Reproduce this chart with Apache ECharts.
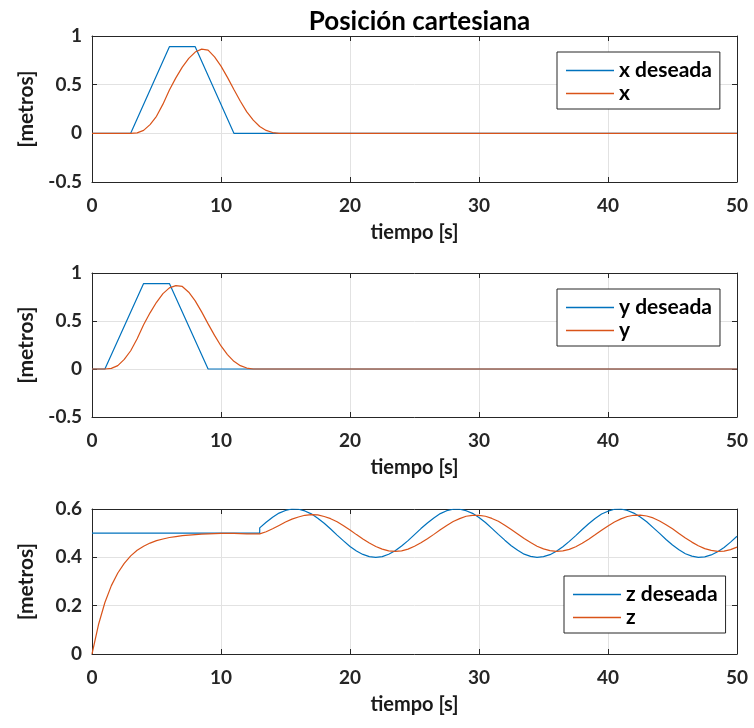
<!DOCTYPE html>
<html>
<head>
<meta charset="utf-8">
<script src="https://cdn.jsdelivr.net/npm/echarts@6/dist/echarts.min.js"></script>
<style>
  html, body { margin: 0; padding: 0; background: #ffffff; }
  #grafico { width: 754px; height: 728px; }
</style>
</head>
<body>
<div id="grafico"></div>
<script>
// Posición cartesiana: referencia (deseada) y respuesta medida en x, y, z.

// ---- Coordenada x ----
const tiempoXDeseada = [0, 3, 6, 8, 11, 50];
const xDeseada = [0, 0, 0.89, 0.89, 0, 0];
const tiempoXReal = [0, 3, 3.5, 4, 4.5, 5, 5.5, 6, 6.5, 7, 7.5, 8, 8.5, 9, 9.5, 10, 10.5, 11, 11.5, 12, 12.5, 13, 13.5, 14, 14.5, 50];
const xReal = [0, 0, 0.005, 0.03, 0.09, 0.175, 0.3, 0.445, 0.57, 0.68, 0.77, 0.835, 0.865, 0.855, 0.785, 0.69, 0.575, 0.45, 0.33, 0.22, 0.135, 0.07, 0.03, 0.008, 0, 0];

// ---- Coordenada y ----
const tiempoYDeseada = [0, 1, 4, 6, 9, 50];
const yDeseada = [0, 0, 0.89, 0.89, 0, 0];
const tiempoYReal = [0, 1, 1.5, 2, 2.5, 3, 3.5, 4, 4.5, 5, 5.5, 6, 6.5, 7, 7.5, 8, 8.5, 9, 9.5, 10, 10.5, 11, 11.5, 12, 12.5, 50];
const yReal = [0, 0, 0.006, 0.035, 0.1, 0.19, 0.315, 0.46, 0.585, 0.695, 0.785, 0.845, 0.868, 0.86, 0.8, 0.71, 0.595, 0.47, 0.35, 0.24, 0.15, 0.08, 0.035, 0.01, 0, 0];

// ---- Coordenada z (muestreo cada 0.5 s) ----
const pasoMuestreo = 0.5;
function muestras(desde, hasta, paso) {
  const t = [];
  for (let i = 0; desde + i * paso <= hasta + 1e-9; i++) t.push(+(desde + i * paso).toFixed(2));
  return t;
}
// Referencia: constante en 0.5 hasta t = 13 s, luego oscilación.
const tiempoZDeseada = [0, 13].concat(muestras(13, 50, pasoMuestreo));
const zDeseada = [0.5, 0.5,
  0.522, 0.545, 0.566, 0.583, 0.594, 0.600, 0.599, 0.592, 0.580, 0.562,
  0.541, 0.517, 0.492, 0.468, 0.445, 0.426, 0.412, 0.403, 0.400, 0.403,
  0.413, 0.427, 0.447, 0.469, 0.494, 0.519, 0.542, 0.563, 0.581, 0.593,
  0.599, 0.599, 0.593, 0.582, 0.565, 0.544, 0.520, 0.495, 0.471, 0.448,
  0.429, 0.413, 0.404, 0.400, 0.403, 0.411, 0.425, 0.444, 0.466, 0.490,
  0.515, 0.539, 0.561, 0.579, 0.591, 0.599, 0.600, 0.594, 0.583, 0.567,
  0.547, 0.523, 0.499, 0.474, 0.451, 0.431, 0.415, 0.405, 0.400, 0.402,
  0.410, 0.423, 0.441, 0.463, 0.487];
const tiempoZReal = muestras(0, 50, pasoMuestreo);
const zReal = [
  0, 0.121, 0.213, 0.283, 0.335, 0.375, 0.406, 0.429, 0.446, 0.459,
  0.469, 0.476, 0.482, 0.486, 0.490, 0.492, 0.494, 0.496, 0.497, 0.498,
  0.499, 0.499, 0.499, 0.498, 0.497, 0.497,
  0.497, 0.506, 0.518, 0.532, 0.546, 0.558, 0.567, 0.574, 0.577, 0.576,
  0.569, 0.560, 0.547, 0.531, 0.513, 0.494, 0.476, 0.459, 0.445, 0.434,
  0.427, 0.425, 0.427, 0.434, 0.446, 0.460, 0.477, 0.495, 0.514, 0.532,
  0.548, 0.560, 0.570, 0.574, 0.574, 0.570, 0.561, 0.549, 0.533, 0.515,
  0.497, 0.478, 0.461, 0.446, 0.435, 0.428, 0.425, 0.427, 0.433, 0.444,
  0.458, 0.475, 0.493, 0.512, 0.530, 0.546, 0.559, 0.569, 0.574, 0.575,
  0.571, 0.563, 0.550, 0.535, 0.518, 0.499, 0.480, 0.463, 0.448, 0.436,
  0.429, 0.425, 0.426, 0.432, 0.442];

// ---- Ejes ----
const limitesY = [
  { min: -0.5, max: 1, interval: 0.5 },
  { min: -0.5, max: 1, interval: 0.5 },
  { min: 0, max: 0.6, interval: 0.2 }
];
const tiempoMax = 50;
const tiempoPaso = 10;

const AZUL = '#0072BD';
const NARANJA = '#D95319';
const TINTA = '#262626';
const FUENTE = 'Lato, "Open Sans", sans-serif';

const rejillas = [
  { left: 92, top: 36, width: 645, height: 146 },
  { left: 92, top: 273, width: 645, height: 144 },
  { left: 92, top: 509, width: 645, height: 145 }
];
const centroRejilla = 92 + 645 / 2;

const lineaEje = { show: true, onZero: false, lineStyle: { color: TINTA, width: 1 } };
const marcaEje = { show: true, inside: true, length: 5, lineStyle: { color: TINTA, width: 1 } };
const textoEje = { fontFamily: FUENTE, fontWeight: 'bold', fontSize: 19, color: TINTA };

const ejesX = [];
const ejesY = [];
rejillas.forEach((r, g) => {
  ejesX.push({
    type: 'value', gridIndex: g, position: 'bottom', min: 0, max: tiempoMax, interval: tiempoPaso,
    axisLine: lineaEje, axisTick: marcaEje,
    axisLabel: Object.assign({ margin: 14 }, textoEje),
    splitLine: { show: true, lineStyle: { color: '#e2e2e2', width: 1 } },
    name: 'tiempo [s]', nameLocation: 'middle', nameGap: 41,
    nameTextStyle: Object.assign({}, textoEje, { fontSize: 20, color: '#1a1a1a' })
  });
  ejesX.push({
    type: 'value', gridIndex: g, position: 'top', min: 0, max: tiempoMax, interval: tiempoPaso,
    axisLine: lineaEje, axisTick: marcaEje, axisLabel: { show: false }, splitLine: { show: false }
  });
  const lim = limitesY[g];
  ejesY.push({
    type: 'value', gridIndex: g, position: 'left', min: lim.min, max: lim.max, interval: lim.interval,
    axisLine: lineaEje, axisTick: marcaEje,
    axisLabel: Object.assign({ margin: 10 }, textoEje),
    splitLine: { show: true, lineStyle: { color: '#e2e2e2', width: 1 } },
    name: '[metros]', nameLocation: 'middle', nameGap: 55,
    nameTextStyle: Object.assign({}, textoEje, { fontSize: 21, color: '#1a1a1a' })
  });
  ejesY.push({
    type: 'value', gridIndex: g, position: 'right', min: lim.min, max: lim.max, interval: lim.interval,
    axisLine: lineaEje, axisTick: marcaEje, axisLabel: { show: false }, splitLine: { show: false }
  });
});

function pares(t, v) { return t.map((ti, i) => [ti, v[i]]); }

function serie(nombre, g, t, v, color) {
  return {
    name: nombre, type: 'line', xAxisIndex: 2 * g, yAxisIndex: 2 * g,
    data: pares(t, v), showSymbol: false, symbol: 'none',
    lineStyle: { color: color, width: 1.2 }, itemStyle: { color: color },
    animation: false, clip: true
  };
}

const series = [
  serie('x deseada', 0, tiempoXDeseada, xDeseada, AZUL),
  serie('x', 0, tiempoXReal, xReal, NARANJA),
  serie('y deseada', 1, tiempoYDeseada, yDeseada, AZUL),
  serie('y', 1, tiempoYReal, yReal, NARANJA),
  serie('z deseada', 2, tiempoZDeseada, zDeseada, AZUL),
  serie('z', 2, tiempoZReal, zReal, NARANJA)
];

function leyenda(nombres, left, top) {
  return {
    data: nombres, left: left, top: top, orient: 'vertical',
    icon: 'rect', itemWidth: 48, itemHeight: 1.5, itemGap: 0,
    padding: [7, 8, 4, 9], backgroundColor: '#ffffff',
    borderColor: TINTA, borderWidth: 1, borderRadius: 0,
    textStyle: { fontFamily: FUENTE, fontWeight: 'bold', fontSize: 21, color: '#000000', lineHeight: 23 },
    selectedMode: false, z: 10
  };
}

const grafico = echarts.init(document.getElementById('grafico'), null, { renderer: 'canvas' });
grafico.setOption({
  backgroundColor: '#ffffff',
  animation: false,
  title: {
    text: 'Posición cartesiana', left: centroRejilla, top: 4, textAlign: 'center',
    textStyle: { fontFamily: FUENTE, fontWeight: 'bold', fontSize: 26, color: '#000000' }
  },
  grid: rejillas,
  xAxis: ejesX,
  yAxis: ejesY,
  legend: [
    leyenda(['x deseada', 'x'], 557, 52),
    leyenda(['y deseada', 'y'], 557, 289),
    leyenda(['z deseada', 'z'], 564, 576)
  ],
  series: series
});
</script>
</body>
</html>
